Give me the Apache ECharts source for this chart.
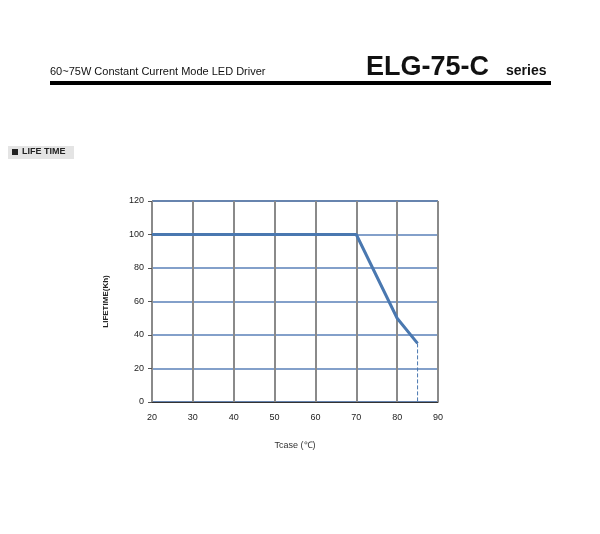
<!DOCTYPE html>
<html><head><meta charset="utf-8">
<script src="https://cdn.jsdelivr.net/npm/echarts@6/dist/echarts.min.js"></script>
<style>html,body{margin:0;padding:0;background:#fff}#c{width:600px;height:534px}</style>
</head><body><div id="c"></div>
<script>
const xTicks=[20,30,40,50,60,70,80,90];
const yTicks=[0,20,40,60,80,100,120];
const lifeX=[20,70,80,85];
const lifeY=[100,100,50,35];
const dashX=[85,85];
const dashY=[35,0];
const ch=echarts.init(document.getElementById('c'));
ch.setOption({
  animation:false,
  grid:{left:152,right:162,top:201,bottom:132,show:true,borderColor:'#222',borderWidth:1},
  xAxis:{type:'value',min:20,max:90,interval:10,
    name:'Tcase (℃)',nameLocation:'middle',nameGap:39,
    nameTextStyle:{fontSize:9,color:'#333',fontFamily:'Liberation Sans'},
    axisLine:{lineStyle:{color:'#333'}},axisTick:{show:false},
    axisLabel:{fontSize:9,color:'#222',margin:11,fontFamily:'Liberation Sans'},
    splitLine:{lineStyle:{color:'#8a8a8a',width:2}}},
  yAxis:{type:'value',min:0,max:120,interval:20,
    name:'LIFETIME(Kh)',nameLocation:'middle',nameGap:42,
    nameTextStyle:{fontSize:8,color:'#222',fontWeight:'bold',fontFamily:'Liberation Sans'},
    axisLine:{show:true,lineStyle:{color:'#8a8a8a'}},axisTick:{show:true,length:4,lineStyle:{color:'#555'}},
    axisLabel:{fontSize:9,color:'#222',margin:8,fontFamily:'Liberation Sans'},
    splitLine:{lineStyle:{color:'#5a80b8',width:1.5}}},
  series:[
    {type:'line',data:lifeX.map((x,i)=>[x,lifeY[i]]),symbol:'none',lineStyle:{color:'#4a78b0',width:3}},
    {type:'line',data:dashX.map((x,i)=>[x,dashY[i]]),symbol:'none',lineStyle:{color:'#4a78b0',width:1,type:'dashed'}}
  ],
  graphic:[
    {type:'text',left:50,top:66,style:{text:'60~75W Constant Current Mode LED Driver',font:'11px "Liberation Sans"',fill:'#111'}},
    {type:'text',left:366,top:54,style:{text:'ELG-75-C',font:'bold 27px "Liberation Sans"',fill:'#111'}},
    {type:'text',left:506,top:64,style:{text:'series',font:'bold 14px "Liberation Sans"',fill:'#111'}},
    {type:'rect',shape:{x:50,y:81,width:501,height:4},style:{fill:'#000'}},
    {type:'rect',shape:{x:8,y:146,width:66,height:13},style:{fill:'#e4e4e4'}},
    {type:'rect',shape:{x:12,y:149,width:6,height:6},style:{fill:'#222'}},
    {type:'text',left:22,top:147,style:{text:'LIFE TIME',font:'bold 9px "Liberation Sans"',fill:'#222'}}
  ]
});
</script></body></html>
